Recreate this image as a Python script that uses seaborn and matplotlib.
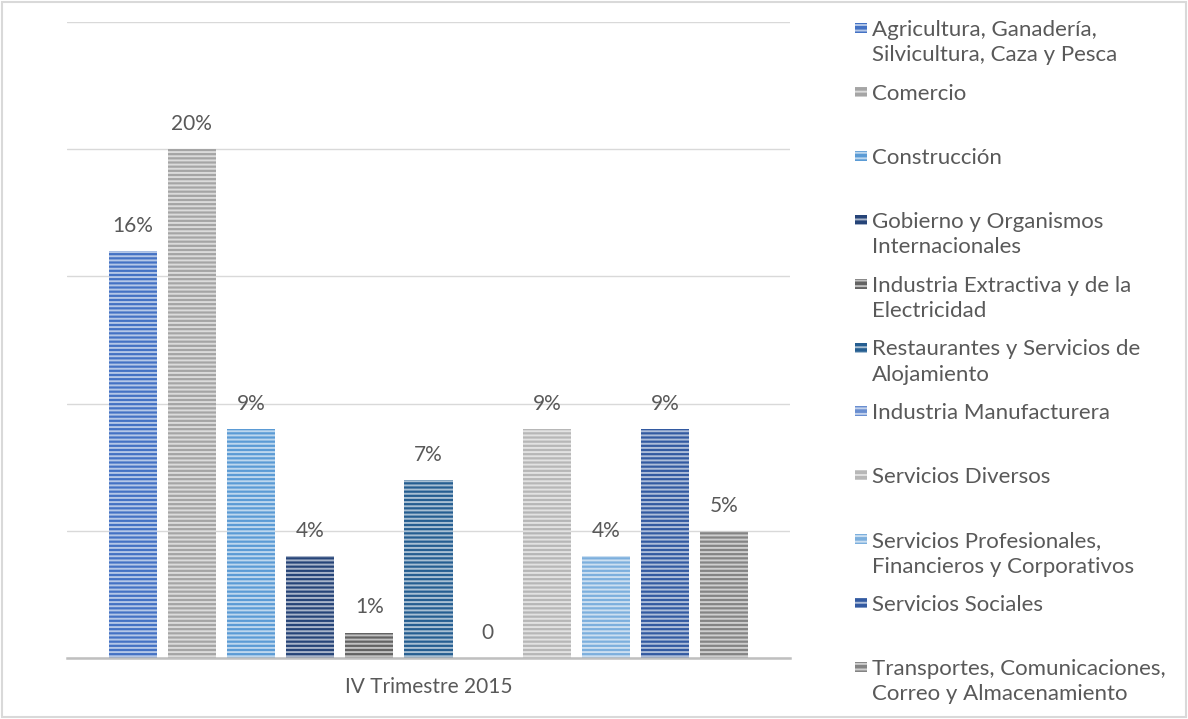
import matplotlib
matplotlib.use("Agg")
import matplotlib.pyplot as plt
import matplotlib.colors as mcolors
from matplotlib.patches import Rectangle
import pandas as pd
import seaborn as sns

# data (percent of total)
periodo = "IV Trimestre 2015"
sectores = [
    "Agricultura, Ganadería,\nSilvicultura, Caza y Pesca",
    "Comercio",
    "Construcción",
    "Gobierno y Organismos\nInternacionales",
    "Industria Extractiva y de la\nElectricidad",
    "Restaurantes y Servicios de\nAlojamiento",
    "Industria Manufacturera",
    "Servicios Diversos",
    "Servicios Profesionales,\nFinancieros y Corporativos",
    "Servicios Sociales",
    "Transportes, Comunicaciones,\nCorreo y Almacenamiento",
]
valores = [16, 20, 9, 4, 1, 7, 0, 9, 4, 9, 5]
colores = ["#4472C4", "#A5A5A5", "#5B9BD5", "#264478", "#636363", "#255E91",
           "#698ED0", "#B7B7B7", "#7CAFDD", "#335AA1", "#848484"]

df = pd.DataFrame({"periodo": periodo, "sector": sectores, "valor": valores})

sns.set_theme(style="white")
plt.rcParams["font.family"] = ["Lato", "DejaVu Sans"]
plt.rcParams["hatch.linewidth"] = 1.4
texto = "#595959"
fs = 15

fig = plt.figure(figsize=(11.88, 7.19), dpi=100)
ax = fig.add_axes([67 / 1188, 1 - 658 / 719, (790 - 67) / 1188, (658 - 22) / 719])

sns.barplot(data=df, x="periodo", y="valor", hue="sector", hue_order=sectores,
            palette=colores, width=0.9, gap=0.188, legend=False, ax=ax,
            saturation=1, linewidth=0)

def lighten(c, f=0.6):
    r, g, b = mcolors.to_rgb(c)
    return (r + (1 - r) * f, g + (1 - g) * f, b + (1 - b) * f)

for cont, col in zip(ax.containers, colores):
    for bar in cont:
        bar.set_facecolor(col)
        bar.set_edgecolor(lighten(col))
        bar.set_hatch("----")
        bar.set_linewidth(0)
    ax.bar_label(cont, labels=["0" if v == 0 else f"{v:.0f}%" for v in cont.datavalues],
                 padding=11, fontsize=fs, color=texto)

ax.set_ylim(0, 25)
ax.set_xlim(-0.5, 0.5)
ax.set_yticks([0, 5, 10, 15, 20, 25])
ax.set_yticklabels([])
ax.yaxis.grid(True, color="#D9D9D9", linewidth=1)
ax.set_axisbelow(True)
for s in ["top", "right", "left"]:
    ax.spines[s].set_visible(False)
ax.spines["bottom"].set_color("#BFBFBF")
ax.spines["bottom"].set_linewidth(1.8)
ax.tick_params(axis="x", length=0, pad=14, labelsize=fs, labelcolor=texto)
ax.tick_params(axis="y", length=0)
ax.set_xlabel("")
ax.set_ylabel("")

# legend drawn as fixed slots, like the original
for i, (nombre, col) in enumerate(zip(sectores, colores)):
    yc = 28 + 63.9 * i
    fig.patches.append(Rectangle((855 / 1188, 1 - (yc + 5) / 719), 12 / 1188, 10 / 719,
                                 transform=fig.transFigure, facecolor=col,
                                 edgecolor=lighten(col), hatch="---", linewidth=0))
    fig.text(872 / 1188, 1 - (yc - 8) / 719, nombre, fontsize=16, color=texto,
             va="top", ha="left", linespacing=1.34)

fig.patches.append(Rectangle((2 / 1188, 2 / 719), 1184 / 1188, 715 / 719,
                             transform=fig.transFigure, fill=False,
                             edgecolor="#D9D9D9", linewidth=1.5))

fig.savefig("out.png", dpi=100, facecolor="white")
